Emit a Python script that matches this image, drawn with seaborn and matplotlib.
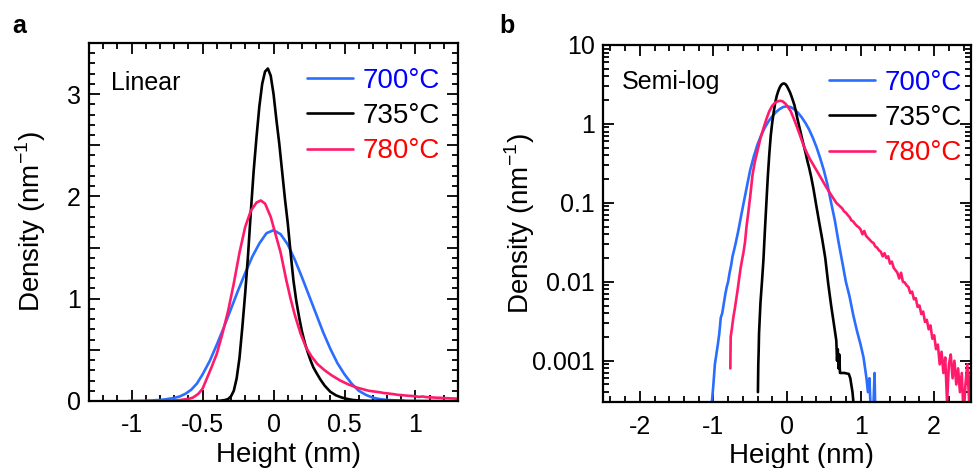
import numpy as np
import pandas as pd
import matplotlib
matplotlib.use("Agg")
import matplotlib.pyplot as plt
from matplotlib.lines import Line2D
from matplotlib.ticker import MultipleLocator, FuncFormatter, LogLocator
import seaborn as sns

# Height distributions (height in nm, density in nm^-1)
temps = ["700°C", "735°C", "780°C"]

h_700 = [-1.02, -1.00, -0.98, -0.96, -0.94, -0.92, -0.90, -0.88, -0.86, -0.84,
         -0.82, -0.80, -0.78, -0.76, -0.74, -0.72, -0.70, -0.66, -0.62, -0.58,
         -0.54, -0.50, -0.45, -0.40, -0.35, -0.30, -0.25, -0.20, -0.15, -0.10,
         -0.05, 0.00, 0.05, 0.10, 0.15, 0.20, 0.25, 0.30, 0.35, 0.40,
         0.45, 0.50, 0.55, 0.60, 0.65, 0.70, 0.75, 0.80, 0.85, 0.90,
         0.95, 1.00, 1.04, 1.08, 1.10, 1.12, 1.14, 1.17, 1.19, 1.20]
d_700 = [0.0003, 0.0005, 0.0009, 0.0012, 0.0016, 0.0022, 0.0035, 0.0040, 0.0052, 0.0068,
         0.0085, 0.010, 0.013, 0.016, 0.021, 0.025, 0.030, 0.045, 0.071, 0.11,
         0.17, 0.26, 0.39, 0.55, 0.72, 0.90, 1.08, 1.25, 1.41, 1.54,
         1.64, 1.67, 1.63, 1.53, 1.38, 1.21, 1.03, 0.85, 0.67, 0.51,
         0.37, 0.26, 0.17, 0.10, 0.060, 0.032, 0.018, 0.010, 0.0065, 0.0038,
         0.0024, 0.0016, 0.0011, 0.0006, 0.0004, 0.0006, 0.0002, 0.0002, 0.0007, 0.0002]

h_735 = [-0.395, -0.39, -0.385, -0.38, -0.37, -0.36, -0.34, -0.32, -0.30, -0.28,
         -0.26, -0.24, -0.22, -0.20, -0.18, -0.16, -0.14, -0.12, -0.10, -0.08,
         -0.06, -0.04, -0.02, 0.00, 0.02, 0.04, 0.06, 0.08, 0.10, 0.12,
         0.14, 0.16, 0.18, 0.20, 0.22, 0.24, 0.26, 0.28, 0.30, 0.33,
         0.36, 0.40, 0.44, 0.48, 0.52, 0.56, 0.60, 0.64, 0.67, 0.68,
         0.69, 0.70, 0.71, 0.72, 0.78, 0.84, 0.86, 0.89, 0.92]
d_735 = [0.0004, 0.0009, 0.0013, 0.0022, 0.0035, 0.0055, 0.010, 0.019, 0.045, 0.10,
         0.22, 0.42, 0.72, 1.05, 1.42, 1.85, 2.25, 2.58, 2.88, 3.10,
         3.22, 3.25, 3.18, 3.00, 2.75, 2.52, 2.25, 1.98, 1.74, 1.45,
         1.18, 0.98, 0.82, 0.68, 0.57, 0.48, 0.40, 0.33, 0.28, 0.21,
         0.15, 0.09, 0.055, 0.034, 0.020, 0.0095, 0.0050, 0.0028, 0.0018, 0.0010,
         0.0014, 0.0008, 0.0012, 0.0007, 0.0007, 0.00068, 0.0006, 0.0004, 0.0002]

h_780 = [-0.77, -0.765, -0.75, -0.73, -0.71, -0.69, -0.67, -0.65, -0.63, -0.61,
         -0.59, -0.57, -0.55, -0.53, -0.50, -0.47, -0.44, -0.40, -0.36, -0.32,
         -0.28, -0.24, -0.20, -0.16, -0.12, -0.09, -0.06, -0.02, 0.02, 0.05,
         0.09, 0.12, 0.15, 0.19, 0.23, 0.27, 0.31, 0.36, 0.41, 0.47,
         0.53, 0.59, 0.67,
         0.750, 0.775, 0.800, 0.825, 0.850, 0.875, 0.900, 0.925, 0.950, 0.975,
         1.000, 1.025, 1.050, 1.075, 1.100, 1.125, 1.150, 1.175, 1.200, 1.225,
         1.250, 1.275, 1.300, 1.325, 1.350, 1.375, 1.400, 1.425, 1.450, 1.475,
         1.500, 1.525, 1.550, 1.575, 1.600, 1.625, 1.650, 1.675, 1.700, 1.725,
         1.750, 1.775, 1.800, 1.825, 1.850, 1.875, 1.900, 1.925, 1.950, 1.975,
         2.000, 2.025, 2.050, 2.075, 2.100, 2.125, 2.150, 2.175, 2.200, 2.225,
         2.250, 2.275, 2.300, 2.325, 2.350, 2.375, 2.400, 2.425, 2.450, 2.475,
         2.500]
d_780 = [0.0008, 0.0020, 0.0025, 0.0035, 0.0045, 0.0060, 0.0080, 0.011, 0.015, 0.019,
         0.024, 0.032, 0.050, 0.070, 0.12, 0.22, 0.32, 0.46, 0.66, 0.88,
         1.15, 1.45, 1.70, 1.86, 1.94, 1.96, 1.93, 1.80, 1.60, 1.45,
         1.18, 1.00, 0.84, 0.66, 0.52, 0.43, 0.36, 0.30, 0.25, 0.20,
         0.16, 0.13, 0.10,
         0.085, 0.078, 0.075, 0.070, 0.066, 0.060, 0.058, 0.054, 0.051, 0.049,
         0.046, 0.040, 0.044, 0.038, 0.036, 0.034, 0.032, 0.031, 0.028, 0.027,
         0.025, 0.024, 0.021, 0.023, 0.020, 0.021, 0.017, 0.018, 0.015, 0.014,
         0.013, 0.011, 0.013, 0.010, 0.0098, 0.0090, 0.0086, 0.0072, 0.0075, 0.0060,
         0.0062, 0.0048, 0.0050, 0.0039, 0.0042, 0.0031, 0.0033, 0.0025, 0.0028, 0.0019,
         0.0021, 0.0014, 0.0016, 0.0009, 0.0013, 0.0007, 0.0011, 0.0003, 0.0009, 0.0012,
         0.0006, 0.0010, 0.0005, 0.0008, 0.0004, 0.0007, 0.0002, 0.0005, 0.0009, 0.0003,
         0.0008]

line_colors = {"700°C": "#2a6dff", "735°C": "#000000", "780°C": "#ff1a6c"}
text_colors = ["#0000ff", "#000000", "#ff0000"]

df = pd.concat([
    pd.DataFrame({"height": h_700, "density": d_700, "temp": "700°C"}),
    pd.DataFrame({"height": h_735, "density": d_735, "temp": "735°C"}),
    pd.DataFrame({"height": h_780, "density": d_780, "temp": "780°C"}),
], ignore_index=True)

sns.set_theme(style="ticks")
plt.rcParams["font.family"] = ["Liberation Sans", "DejaVu Sans"]
plt.rcParams["mathtext.fontset"] = "custom"
plt.rcParams["mathtext.rm"] = "Liberation Sans"
plt.rcParams["text.color"] = "black"
plt.rcParams["axes.labelcolor"] = "black"

LW = 1.9

fig = plt.figure(figsize=(9.74, 4.68), dpi=100)
ax_a = fig.add_axes([0.0914, 0.1432, 0.3789, 0.7650])
ax_b = fig.add_axes([0.6191, 0.1410, 0.3778, 0.7630])


def style_axes(ax):
    for sp in ax.spines.values():
        sp.set_linewidth(1.6)
        sp.set_color("black")
    ax.tick_params(which="both", direction="in", top=True, right=True,
                   width=1.3, colors="black", labelcolor="black", labelsize=18)
    ax.tick_params(which="major", length=8)
    ax.tick_params(which="minor", length=4)
    ax.tick_params(axis="x", pad=9)
    ax.tick_params(axis="y", pad=6)


def add_legend(ax, anchor):
    handles = [Line2D([], [], color=line_colors[t], lw=LW) for t in temps]
    leg = ax.legend(handles, temps, loc="upper right", bbox_to_anchor=anchor,
                    frameon=False, fontsize=20, handlelength=1.65,
                    handletextpad=0.35, labelspacing=0.33,
                    borderpad=0, borderaxespad=0)
    for txt, c in zip(leg.get_texts(), text_colors):
        txt.set_color(c)


ylabel = "Density (nm$^{\\mathregular{-1}}$)"

# panel a: linear scale
sns.lineplot(data=df, x="height", y="density", hue="temp", palette=line_colors,
             sort=False, estimator=None, lw=LW, legend=False, ax=ax_a)
ax_a.set_xlim(-1.3, 1.3)
ax_a.set_ylim(0, 3.5)
ax_a.xaxis.set_major_locator(MultipleLocator(0.5))
ax_a.xaxis.set_minor_locator(MultipleLocator(0.1))
ax_a.yaxis.set_major_locator(MultipleLocator(0.5))
ax_a.yaxis.set_minor_locator(MultipleLocator(0.1))
ax_a.xaxis.set_major_formatter(FuncFormatter(lambda v, p: f"{v:g}"))
ax_a.yaxis.set_major_formatter(FuncFormatter(lambda v, p: f"{v:g}" if abs(v - round(v)) < 1e-6 else ""))
style_axes(ax_a)
ax_a.set_xlabel("Height (nm)", fontsize=20)
ax_a.set_ylabel(ylabel, fontsize=20)
ax_a.xaxis.set_label_coords(0.54, -0.115)
ax_a.yaxis.set_label_coords(-0.112, 0.5)
ax_a.text(0.06, 0.888, "Linear", transform=ax_a.transAxes, fontsize=18,
          ha="left", va="center")
add_legend(ax_a, (0.95, 0.93))

# panel b: semi-log scale
sns.lineplot(data=df, x="height", y="density", hue="temp", palette=line_colors,
             sort=False, estimator=None, lw=LW, legend=False, ax=ax_b)
ax_b.set_yscale("log")
ax_b.set_xlim(-2.5, 2.5)
ax_b.set_ylim(3e-4, 10)
ax_b.xaxis.set_major_locator(MultipleLocator(1))
ax_b.xaxis.set_minor_locator(MultipleLocator(0.2))
ax_b.yaxis.set_major_locator(LogLocator(base=10))
ax_b.yaxis.set_minor_locator(LogLocator(base=10, subs=np.arange(2, 10)))
ax_b.xaxis.set_major_formatter(FuncFormatter(lambda v, p: f"{v:g}"))
ax_b.yaxis.set_major_formatter(FuncFormatter(lambda v, p: f"{v:g}"))
style_axes(ax_b)
ax_b.set_xlabel("Height (nm)", fontsize=20)
ax_b.set_ylabel(ylabel, fontsize=20)
ax_b.xaxis.set_label_coords(0.54, -0.115)
ax_b.yaxis.set_label_coords(-0.18, 0.5)
ax_b.text(0.052, 0.896, "Semi-log", transform=ax_b.transAxes, fontsize=18,
          ha="left", va="center")
add_legend(ax_b, (0.975, 0.93))

fig.text(0.013, 0.945, "a", fontsize=18, fontweight="bold", ha="left", va="center")
fig.text(0.513, 0.945, "b", fontsize=18, fontweight="bold", ha="left", va="center")

fig.savefig("out.png", dpi=100)
